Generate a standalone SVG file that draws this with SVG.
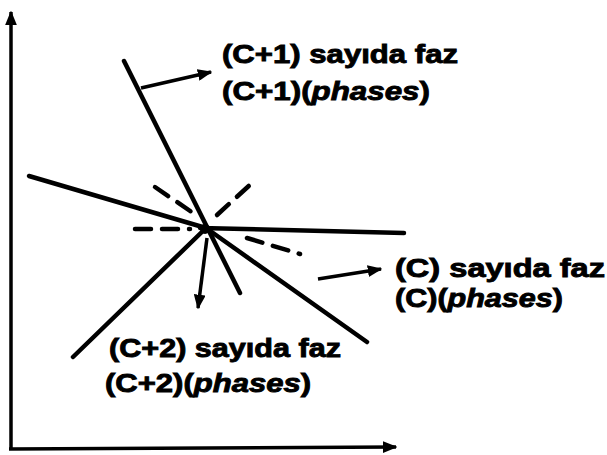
<svg xmlns="http://www.w3.org/2000/svg" width="607" height="455" viewBox="0 0 607 455">
<style>
.ax{stroke:#000;stroke-width:3.5;fill:none}
.ln{stroke:#000;stroke-width:4.5;stroke-linecap:round;fill:none}
.ds{stroke:#000;stroke-width:4.5;stroke-linecap:round;fill:none;stroke-dasharray:16 11}
.ar{stroke:#000;stroke-width:3.5;fill:none}
text{font-family:"Liberation Sans","Arial",sans-serif;font-weight:bold;font-size:26px;fill:#000;stroke:#000;stroke-width:0.9}
.it{font-style:italic}
</style>
<defs>
<marker id="ah" viewBox="0 0 10 10" refX="9" refY="5" markerWidth="4.2" markerHeight="3.4" markerUnits="strokeWidth" orient="auto" preserveAspectRatio="none">
<path d="M0,0 L10,5 L0,10 Z" fill="#000"/>
</marker>
</defs>
<g id="axes">
<line class="ax" x1="11" y1="449" x2="11" y2="12" marker-end="url(#ah)"/>
<line class="ax" x1="9" y1="449" x2="396" y2="447" marker-end="url(#ah)"/>
</g>
<g id="connectors">
<line class="ln" x1="124" y1="61" x2="240" y2="293"/>
<line class="ln" x1="29" y1="176" x2="206" y2="228"/>
<line class="ds" x1="247" y1="238" x2="300" y2="254"/>
<line class="ln" x1="200" y1="228" x2="404" y2="233"/>
<line class="ds" x1="135" y1="229" x2="190" y2="229"/>
<line class="ln" x1="73" y1="357" x2="206" y2="228"/>
<line class="ds" x1="217" y1="215" x2="252" y2="183"/>
<line class="ln" x1="206" y1="228" x2="367" y2="342"/>
<line class="ds" x1="155" y1="187" x2="196" y2="215"/>
<circle cx="205" cy="229" r="5" fill="#000"/>
<line class="ar" x1="207" y1="238" x2="198" y2="308" marker-end="url(#ah)"/>
<line class="ar" x1="141" y1="88" x2="211" y2="72" marker-end="url(#ah)"/>
<line class="ar" x1="318" y1="279" x2="381" y2="269" marker-end="url(#ah)"/>
</g>
<g id="label-c1">
<text x="222" y="63" textLength="236" lengthAdjust="spacingAndGlyphs">(C+1) sayıda faz</text>
<text x="222" y="100" textLength="208" lengthAdjust="spacingAndGlyphs">(C+1)(<tspan class="it">phases</tspan>)</text>
</g>
<g id="label-c">
<text x="395" y="277" textLength="210" lengthAdjust="spacingAndGlyphs">(C) sayıda faz</text>
<text x="395" y="307" textLength="168" lengthAdjust="spacingAndGlyphs">(C)(<tspan class="it">phases</tspan>)</text>
</g>
<g id="label-c2">
<text x="109" y="357" textLength="232" lengthAdjust="spacingAndGlyphs">(C+2) sayıda faz</text>
<text x="105" y="392" textLength="206" lengthAdjust="spacingAndGlyphs">(C+2)(<tspan class="it">phases</tspan>)</text>
</g>
</svg>
